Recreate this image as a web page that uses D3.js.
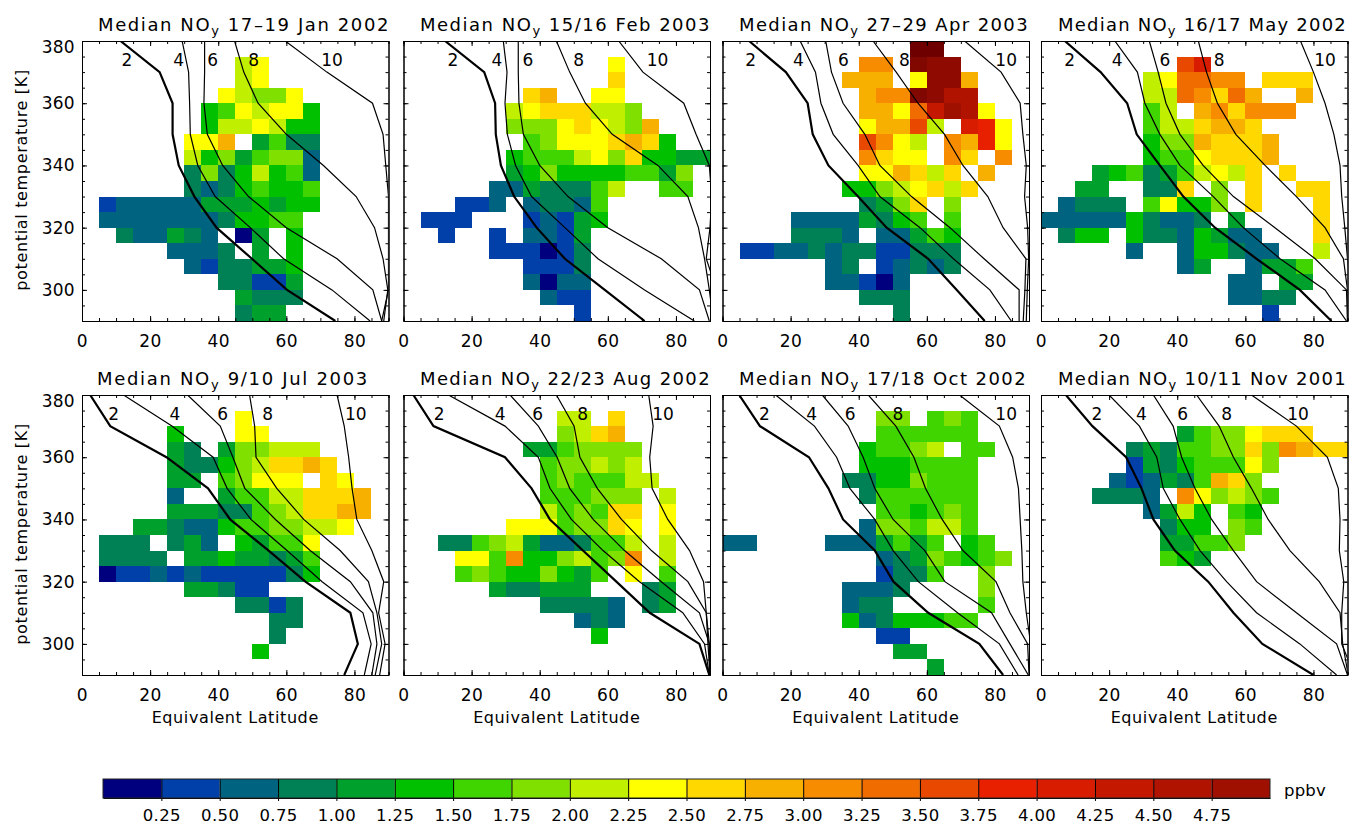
<!DOCTYPE html>
<html>
<head>
<meta charset="utf-8">
<script src="https://cdn.jsdelivr.net/npm/d3@7"></script>
<style>
    body { margin: 0; background: #fff; }
    text { font-family: "DejaVu Sans", sans-serif; fill: #000; }
</style>
</head>
<body>
<svg id="chart"></svg>
<script>
// colour bins, 0.25 ppbv wide. the last three are above the colour bar (only Apr 2003 gets there)
var binEdges = [0.25,0.5,0.75,1,1.25,1.5,1.75,2,2.25,2.5,2.75,3,3.25,3.5,3.75,4,4.25,4.5,4.75,5,5.25,5.5]
var binColors = ["#00007f","#0040a8","#006480","#008055","#00a02c","#00c000","#40d400","#80e000","#c0f000","#ffff00","#ffd800","#f8b000","#f88c00","#f06c00","#e84800","#e82000","#d81c00","#c41800","#b01400","#a01000","#8f0a00","#800800","#6e0000"]
var barTicks = [0.25,0.5,0.75,1,1.25,1.5,1.75,2,2.25,2.5,2.75,3,3.25,3.5,3.75,4,4.25,4.5,4.75]

// median NOy per 5x5 box, top row is 375-380 K, left column is 0-5 deg
// each char is the bin number in base 23 ("." = no data)
var titleDates = ["17\u201319 Jan 2002","15/16 Feb 2003","27\u201329 Apr 2003","16/17 May 2002","9/10 Jul 2003","22/23 Aug 2002","17/18 Oct 2002","10/11 Nov 2001"]

var gridJan = ["..................",".........89.......",".........89.......","........98779.....",".......5698995....",".......5889855....","......99b.4633....","......85746772....","......37358562....","......32356556....",".1222224445455....",".222222235566.....","..322432.04.5.....",".....2223.4.5.....","......2133445.....","........33114.....",".........4333.....",".........344......"]
var gridFeb = ["..................","............9.....","............a.....",".......ab..99.....","......89aaa887....","......7779a987b...",".......67999aba5..","......5666897a5544","......45755556647.",".....22433368..66.","...112.23326......",".111...12145......","..1..1.2214.......",".....111013.......",".......1113.......",".......2022.......","........211.......","..........1......."]
var gridApr = ["...........mm.....","........cc.lkk....",".......bbb.9kkb...","........bcclkii...","........bb9dhji9..","........9bbe8.gf9.","........ec98.cbf9.","........ca99.ca.c.","........99ba8a.b..",".......55789a8a...","........347a.7....","....22224356.6....","....3332.22465....",".1122323311333....","......23.12323....","......22102.......","........333.......","..........3......."]
var gridMay = ["..................","........eg........","......89ddcc.aaa..","......88dcadb..b..","......68.bcaccc...","......688abba.....","......577baaab....","......5669aaab....","...456346898a.a...","..44..33a.7.a..aa.",".2333.69557.a...a.","2222253223.4....a.",".355.53325422...a.",".....2..255322..8.","........24..2446..","...........22.44..","...........2233...",".............1...."]
var gridJul = ["..................",".........9........",".....5...99.......",".....43.477888....",".....433578aaba...",".....44.67999.a9..",".....2..46688aaab.",".....44433678aabb.","...4432256677889..",".333.342.54669....",".3333.44544346....",".0112121111135....","......44311.......",".........3313.....","...........33.....","...........3......","..........5.......",".................."]
var gridAug = ["..................",".........88.a.....",".........78ab.....",".......4467777....","........677878....","........6766688...","........666777.8..","........8676aa.9..","......999677a9.9..","..336784223668.8..","...996c557867c.8..","...676557546.9.6..",".....433444...34..","........33332.34..","..........232.....","...........5......","..................",".................."]
var gridOct = ["..................",".........77.676...",".........666666...","........56678.66..","........5556666...",".......33557666...","........3666666...",".........665676...","........2776886...","22....2224646.56..",".........23476567.",".........1336..7..",".......2223....7..",".......233.....6..",".......52355566...",".........11.......","..........44......","............4....."]
var gridNov = ["..................","..................","........46779aaa..",".....3436677a7cbaa",".....143566697....","....212436ba7.....","...3332.c97876....","......2485.65.....",".......355.76.....",".......44667......",".......654........","..................","..................","..................","..................","..................","..................",".................."]

// potential temperature levels the PV contours were read at
var thetaLevels = [380,370,360,350,340,330,320,310,300,290]
var contourNames = ["2","4","6","8","10"]

// equivalent latitude of each contour at thetaLevels, 2 PVU first (that one is the thick line)
var linesJan = [[11.3,22.8,26.6,26.6,28.4,33,39.5,49.9,60.2,74.4],[29.4,31.3,31.6,31.8,34,39.1,49.4,59.2,73.4,84.6],[36,36,35.8,36.8,41.3,48.9,60,74.9,85.4,88],[44.8,47.5,51.7,60,70.9,80.5,85.9,88.4,89.8,88.6],[59.7,71.9,85.3,88.4,89.2,90,90,90,90,88]]
var linesFeb = [[12.2,23.7,26.9,27.1,28.6,32.5,39.1,47.4,59.1,70.8],[29.3,30.4,29.8,30.5,32.9,37.6,47.4,57.1,70.8,85.4],[33.7,33.7,33.9,35.2,40,48.3,60,75.7,86.9,89.8],[44.9,48.8,53.4,61.3,74.7,83.5,86.6,88.4,89.8,91],[63.2,70.3,82.3,85.9,89.8,90.5,90,88.9,92,92]]
var linesApr = [[7.8,18.6,25,26.5,31.1,39.8,48.2,60.4,68.8,77],[22.8,27.3,28.9,32.5,39.8,46.2,58,67.8,78.5,84.8],[30.3,32,35.4,41.8,46.2,55.5,66.8,76.8,87.1,87.1],[44.2,51,57.4,65.2,70.6,77.9,82.4,89.1,88.8,88.3],[71.1,81.8,87.4,88.2,89.2,88.7,89.6,89.9,89.5,89.2]]
var linesMay = [[7,17.5,25.3,28.1,34.9,41.8,51.1,63.3,76,85.3],[21.7,28.3,30.5,34.9,40.8,50.6,59.4,70.2,83.4,89.7],[31.8,34.4,36.7,40.8,47.6,56.5,68.7,80.5,89.7,90],[46.2,48.6,51.8,57.2,65.8,75,83.4,88.8,90,90],[76.2,80,83.4,86,87.8,88.3,89.2,90,91,91]]
var linesJul = [[2.4,8.3,24.8,37,43.5,54.8,65.6,78.8,81,77],[12.2,26.4,38.5,42.6,49.6,60.2,70.5,82.5,84.9,82.9],[31,40.6,44.3,47.8,56.8,67,78.8,85.4,86.6,85.1],[49.2,50.7,51.1,57.2,65.1,75.8,84.1,86.6,88,86.1],[74.9,77,78.3,79.3,80.7,85.1,88.6,87.1,89,87.4]]
var linesAug = [[2.9,8.8,29.8,37.6,43,52.7,62.5,72.3,86.9,89.8],[13.2,29.8,39.6,43,49.3,58.6,69.3,82,88.4,89.8],[31.3,39.6,45.1,48.8,55.7,64.9,75.7,86.9,89.8,90],[44.9,50.1,51.8,56.9,64,72.8,83.5,88.9,89.4,90],[72,73.3,72.3,73,77.6,84,88.1,88.9,89.8,90]]
var linesOct = [[4.9,11,25.4,31.1,35.4,44.7,50.2,60.4,75.4,82.4],[15.6,27,33.5,37.4,44.7,50.1,57.5,69,81.3,86.8],[29.3,36.9,41.3,44.7,50.1,59.4,65.3,79,84.4,89.8],[42.8,50.9,56.2,59.6,64.5,70.6,80.3,84.4,89.6,90],[69.6,81.3,85.2,86.9,87.4,87.9,88.2,89.2,90.5,91]]
var linesNov = [[7.3,15.1,25,29.5,33,39.3,49.1,56.5,65,80],[20,28.9,34,35.9,40.8,46.7,54.5,63.3,76,86.8],[33,38.8,41.3,45.2,50.1,56.5,63.3,75,86.8,90],[45.7,52.3,56.5,61.8,66.7,73.1,81.7,87.8,88.6,90.2],[61.8,75,84.1,87.3,87.8,87.6,88.9,88.3,88.3,92]]

// where the contour numbers sit (equivalent latitude)
var labelLatJan = [13.2,28.4,38.4,50.4,73.4]
var labelLatFeb = [14.5,27.4,36.5,51.4,74.6]
var labelLatApr = [8.3,22.3,35.5,53.4,83.3]
var labelLatMay = [8.4,22.4,36.4,52.3,83.4]
var labelLatJul = [9.3,27.3,41.3,54.5,80.4]
var labelLatAug = [10.5,28.4,39.4,52.6,76.2]
var labelLatOct = [12.3,26.2,37.5,51.5,83.3]
var labelLatNov = [16.4,29.5,41.6,54.5,75.5]

var grids = [gridJan,gridFeb,gridApr,gridMay,gridJul,gridAug,gridOct,gridNov]
var lines = [linesJan,linesFeb,linesApr,linesMay,linesJul,linesAug,linesOct,linesNov]
var labelLats = [labelLatJan,labelLatFeb,labelLatApr,labelLatMay,labelLatJul,labelLatAug,labelLatOct,labelLatNov]

var dimensions = {
    width: 1353,
    height: 826,
    panelWidth: 306.5,
    panelHeight: 280,
    lefts: [82, 403.5, 722.5, 1041],
    tops: [41, 395]
}
// titles were not placed the same way in every panel
var titleStarts = [98, 420, 739, 1058, 97, 420, 739, 1058]
var titleEnds = [390, 711, 1029, 1347, 369, 711, 1027, 1347]

var svg = d3.select("#chart")
            .attr("width", dimensions.width)
            .attr("height", dimensions.height)
            .style("display", "block")

var xScale = d3.scaleLinear().domain([0, 90]).range([0, dimensions.panelWidth])
var yScale = d3.scaleLinear().domain([290, 380]).range([dimensions.panelHeight, 0])
var scaleColor = d3.scaleThreshold().domain(binEdges).range(binColors)

var lineGen = d3.line()
                .x(d => xScale(d[0]))
                .y(d => yScale(d[1]))

var tickFont = "17px"

grids.forEach(function(grid, p){
    var col = p % 4
    var row = Math.floor(p / 4)
    var panel = svg.append("g")
                    .attr("transform", `translate(${dimensions.lefts[col]},${dimensions.tops[row]})`)

    //turn the strings into boxes
    var cells = []
    grid.forEach(function(s, r){
        s.split("").forEach(function(c, i){
            if(c != ".") cells.push({lat: i * 5, theta: 375 - r * 5, value: (parseInt(c, 23) + 0.5) * 0.25})
        })
    })

    panel.selectAll("rect.cell")
        .data(cells)
        .enter()
        .append("rect")
        .attr("class", "cell")
        .attr("x", d => xScale(d.lat))
        .attr("y", d => yScale(d.theta + 5))
        .attr("width", d => xScale(d.lat + 5) - xScale(d.lat))
        .attr("height", d => yScale(d.theta) - yScale(d.theta + 5))
        .attr("fill", d => scaleColor(d.value))
        .attr("shape-rendering", "crispEdges")

    //contours get clipped at the box
    svg.append("clipPath")
        .attr("id", "clip" + p)
        .append("rect")
        .attr("width", dimensions.panelWidth)
        .attr("height", dimensions.panelHeight)

    panel.append("g")
        .attr("clip-path", `url(#clip${p})`)
        .selectAll("path")
        .data(lines[p])
        .enter()
        .append("path")
        .attr("fill", "none")
        .attr("stroke", "#000")
        .attr("stroke-width", (d, i) => i == 0 ? 2.2 : 1.2)
        .attr("d", d => lineGen(d.map((lat, i) => [lat, thetaLevels[i]])))

    panel.selectAll("text.level")
        .data(contourNames)
        .enter()
        .append("text")
        .attr("class", "level")
        .attr("x", (d, i) => xScale(labelLats[p][i]))
        .attr("y", yScale(374))
        .attr("dy", "0.35em")
        .attr("text-anchor", "middle")
        .style("font-size", "17px")
        .text(d => d)

    //box with inward ticks on all four sides, IDL style
    var xMajor = [0,20,40,60,80]
    var xMinor = d3.range(0, 95, 5)
    var yMajor = [300,320,340,360,380]
    var yMinor = d3.range(290, 385, 5)

    var bottom = panel.append("g")
        .attr("transform", `translate(0,${dimensions.panelHeight})`)
        .call(d3.axisBottom(xScale).tickValues(xMajor).tickSizeInner(-5).tickSizeOuter(0).tickPadding(14))
    panel.append("g")
        .attr("transform", `translate(0,${dimensions.panelHeight})`)
        .call(d3.axisBottom(xScale).tickValues(xMinor).tickSize(-3).tickFormat(""))
    panel.append("g")
        .call(d3.axisTop(xScale).tickValues(xMajor).tickSizeInner(-5).tickSizeOuter(0).tickFormat(""))
    panel.append("g")
        .call(d3.axisTop(xScale).tickValues(xMinor).tickSize(-3).tickFormat(""))

    var left = panel.append("g")
        .call(d3.axisLeft(yScale).tickValues(yMajor).tickSizeInner(-5).tickSizeOuter(0).tickPadding(7)
            .tickFormat(col == 0 ? d3.format("d") : ""))
    panel.append("g")
        .call(d3.axisLeft(yScale).tickValues(yMinor).tickSize(-3).tickFormat(""))
    panel.append("g")
        .attr("transform", `translate(${dimensions.panelWidth},0)`)
        .call(d3.axisRight(yScale).tickValues(yMajor).tickSizeInner(-5).tickSizeOuter(0).tickFormat(""))
    panel.append("g")
        .attr("transform", `translate(${dimensions.panelWidth},0)`)
        .call(d3.axisRight(yScale).tickValues(yMinor).tickSize(-3).tickFormat(""))

    bottom.selectAll("text").style("font-size", tickFont).style("font-family", "DejaVu Sans").style("letter-spacing", "0.5px")
    left.selectAll("text").style("font-size", tickFont).style("font-family", "DejaVu Sans").style("letter-spacing", "0.3px")
    //the top label is pushed down into the plot height
    left.selectAll("text").filter(d => d == 380).attr("transform", "translate(0,6)")

    //title, spacing is worked out so it ends where the original ends
    var title = svg.append("text")
        .attr("x", titleStarts[p])
        .attr("y", dimensions.tops[row] - 10)
        .style("font-size", "18px")
    title.append("tspan").text("Median NO")
    title.append("tspan").attr("dy", 4).style("font-size", "13px").text("y")
    title.append("tspan").attr("dy", -4).text(" " + titleDates[p])
    var spare = titleEnds[p] - titleStarts[p] - title.node().getComputedTextLength()
    title.style("letter-spacing", spare / title.text().length + "px")

    if(row == 1){
        panel.append("text")
            .attr("x", dimensions.panelWidth / 2)
            .attr("y", dimensions.panelHeight + 48)
            .attr("text-anchor", "middle")
            .style("font-size", "16px")
            .style("letter-spacing", "0.6px")
            .text("Equivalent Latitude")
    }
    if(col == 0){
        panel.append("text")
            .attr("transform", `translate(-55,${dimensions.panelHeight / 2 - 1}) rotate(-90)`)
            .attr("text-anchor", "middle")
            .style("font-size", "16px")
            .style("letter-spacing", "0.67px")
            .text("potential temperature [K]")
    }
})

//colour bar
var barX = d3.scaleLinear().domain([0, 5]).range([103, 1270])
var barTop = 779
var barHeight = 19
var barBins = binColors.slice(0, 20)

svg.selectAll("rect.bar")
    .data(barBins)
    .enter()
    .append("rect")
    .attr("class", "bar")
    .attr("x", (d, i) => barX(i * 0.25))
    .attr("y", barTop)
    .attr("width", barX(0.25) - barX(0))
    .attr("height", barHeight)
    .attr("fill", d => d)

var barAxis = svg.append("g")
    .attr("transform", `translate(0,${barTop + barHeight})`)
    .call(d3.axisBottom(barX).tickValues(barTicks).tickFormat(d3.format(".2f")).tickSizeInner(3).tickSizeOuter(0).tickPadding(8))
barAxis.selectAll("text").style("font-size", "16.5px").style("font-family", "DejaVu Sans").style("letter-spacing", "0.4px")
barAxis.selectAll("line").attr("y1", -barHeight)

svg.append("rect")
    .attr("x", 103)
    .attr("y", barTop)
    .attr("width", 1167)
    .attr("height", barHeight)
    .attr("fill", "none")
    .attr("stroke", "#222")

svg.append("text")
    .attr("x", 1284)
    .attr("y", 796)
    .style("font-size", "16.5px")
    .style("letter-spacing", "0.2px")
    .text("ppbv")
</script>
</body>
</html>
